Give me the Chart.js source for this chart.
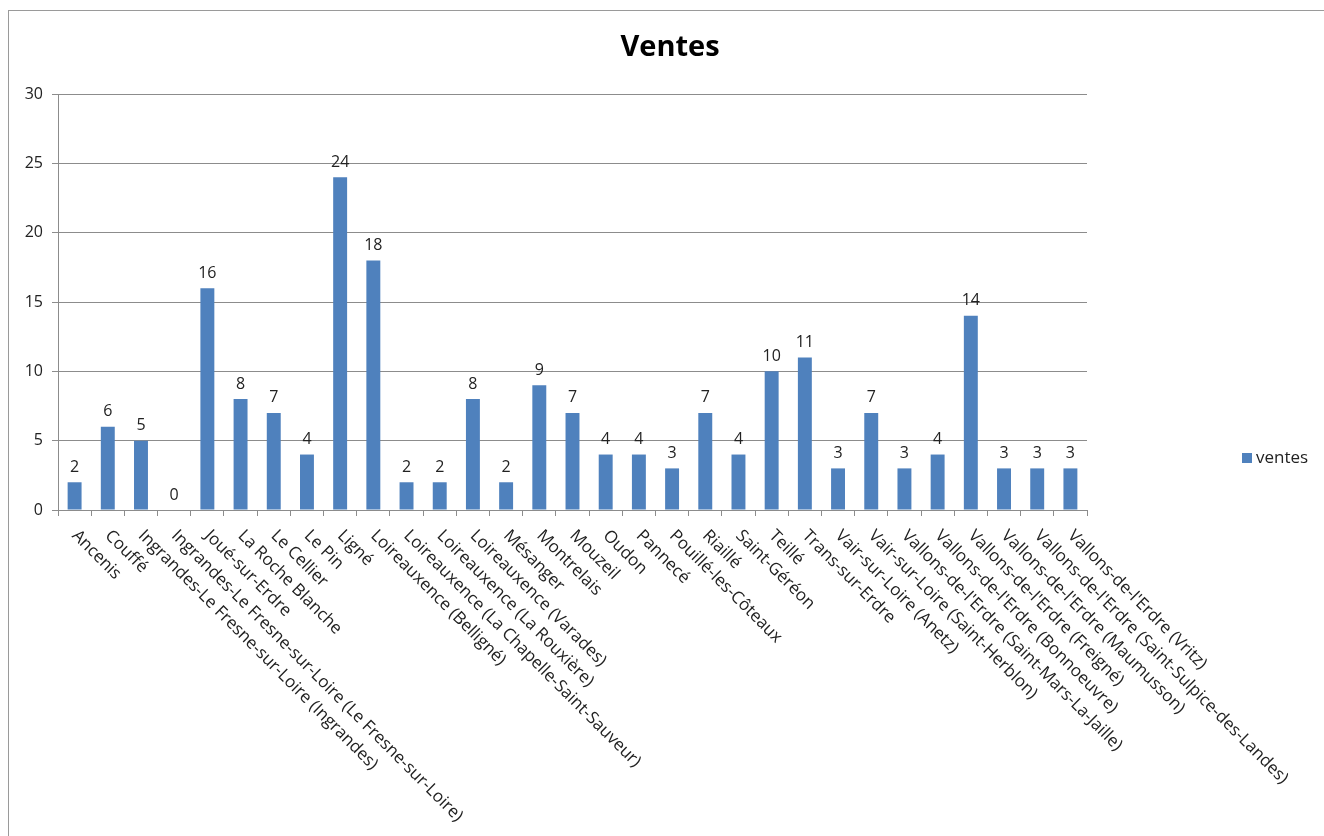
<!DOCTYPE html>
<html>
<head>
<meta charset="utf-8">
<script src="https://cdn.jsdelivr.net/npm/chart.js@4"></script>
<style>
  body { margin: 0; background: #fff; }
  #frame { position: absolute; left: 8px; top: 10px; width: 1316px; height: 826px;
           border-top: 1px solid #9a9a9a; border-left: 1px solid #9a9a9a; }
  #chart { position: absolute; left: 0; top: 0; }
</style>
</head>
<body>
<div id="frame"></div>
<canvas id="chart" width="1324" height="836"></canvas>
<script>
"use strict";

const communes = [
  "Ancenis", "Couffé", "Ingrandes-Le Fresne-sur-Loire (Ingrandes)",
  "Ingrandes-Le Fresne-sur-Loire (Le Fresne-sur-Loire)", "Joué-sur-Erdre",
  "La Roche Blanche", "Le Cellier", "Le Pin", "Ligné", "Loireauxence (Belligné)",
  "Loireauxence (La Chapelle-Saint-Sauveur)", "Loireauxence (La Rouxière)",
  "Loireauxence (Varades)", "Mésanger", "Montrelais", "Mouzeil", "Oudon",
  "Pannecé", "Pouillé-les-Côteaux", "Riaillé", "Saint-Géréon", "Teillé",
  "Trans-sur-Erdre", "Vair-sur-Loire (Anetz)", "Vair-sur-Loire (Saint-Herblon)",
  "Vallons-de-l'Erdre (Saint-Mars-La-Jaille)", "Vallons-de-l'Erdre (Bonnoeuvre)",
  "Vallons-de-l'Erdre (Freigné)", "Vallons-de-l'Erdre (Maumusson)",
  "Vallons-de-l'Erdre (Saint-Sulpice-des-Landes)", "Vallons-de-l'Erdre (Vritz)"
];
const ventes = [2, 6, 5, 0, 16, 8, 7, 4, 24, 18, 2, 2, 8, 2, 9, 7, 4, 4, 3, 7, 4, 10, 11, 3, 7, 3, 4, 14, 3, 3, 3];
const yTicks = [0, 5, 10, 15, 20, 25, 30];

const FONT = "'Open Sans', 'Liberation Sans', sans-serif";
const BLUE = "#4f81bd";

// title, value labels, slanted category labels and the legend
const extras = {
  id: "extras",
  afterDatasetsDraw(chart) {
    const ctx = chart.ctx;
    const meta = chart.getDatasetMeta(0);
    const xScale = chart.scales.x;
    const area = chart.chartArea;
    ctx.save();

    ctx.fillStyle = "#000";
    ctx.font = "bold 29px " + FONT;
    ctx.textAlign = "center";
    ctx.textBaseline = "middle";
    ctx.fillText("Ventes", chart.width / 2 + 8, 48);

    ctx.fillStyle = "#222";
    ctx.font = "16px " + FONT;
    ctx.textBaseline = "bottom";
    meta.data.forEach((bar, i) => {
      ctx.fillText(String(ventes[i]), bar.x, bar.y - 7);
    });

    ctx.font = "17px " + FONT;
    ctx.textAlign = "left";
    ctx.textBaseline = "middle";
    communes.forEach((name, i) => {
      const x = xScale.getPixelForValue(i);
      ctx.save();
      ctx.translate(x, area.bottom + 23);
      ctx.rotate(Math.PI / 4);
      ctx.fillText(name, 0, 0);
      ctx.restore();
    });

    // legend
    const lx = area.right + 155, ly = 458;
    ctx.fillStyle = BLUE;
    ctx.fillRect(lx, ly - 5, 10, 10);
    ctx.fillStyle = "#222";
    ctx.fillText("ventes", lx + 14, ly);
    ctx.restore();
  }
};

function renderChart() {
  const canvasElem = document.getElementById("chart");
  new Chart(canvasElem, {
    type: "bar",
    data: {
      labels: communes,
      datasets: [{
        label: "ventes",
        data: ventes,
        backgroundColor: BLUE,
        categoryPercentage: 1,
        barPercentage: 0.42,
      }],
    },
    options: {
      responsive: false,
      animation: false,
      layout: { padding: { left: 8, right: 237, top: 94, bottom: 320 } },
      scales: {
        x: {
          ticks: { display: false },
          grid: { offset: true, drawOnChartArea: false, drawTicks: true, tickLength: 6, color: "#8c8c8c" },
          border: { color: "#8c8c8c" },
        },
        y: {
          min: 0,
          max: 30,
          afterFit(scale) { scale.width = 50; },
          afterBuildTicks(scale) { scale.ticks = yTicks.map(v => ({ value: v })); },
          ticks: { color: "#222", padding: 9, font: { family: FONT, size: 16 } },
          grid: { color: "#8c8c8c", tickLength: 6 },
          border: { color: "#8c8c8c" },
        },
      },
      plugins: {
        legend: { display: false },
        tooltip: { enabled: false },
        title: { display: false },
      },
    },
    plugins: [extras],
  });
}

renderChart();
</script>
</body>
</html>
